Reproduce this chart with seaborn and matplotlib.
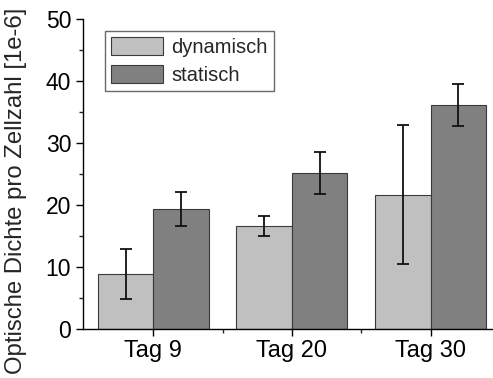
import matplotlib
matplotlib.use("Agg")
import matplotlib.pyplot as plt
from matplotlib.ticker import MultipleLocator, FixedLocator
import numpy as np
import pandas as pd
import seaborn as sns

# Measured optical density per cell count (x 1e-6)
days = ["Tag 9", "Tag 20", "Tag 30"]
groups = ["dynamisch", "statisch"]
dynamisch = [8.85, 16.6, 21.7]
statisch = [19.35, 25.2, 36.1]
dynamisch_err = [4.0, 1.6, 11.2]
statisch_err = [2.7, 3.4, 3.4]
colors = ["#c0c0c0", "#808080"]

df = pd.DataFrame({
    "Tag": days * 2,
    "Gruppe": [groups[0]] * 3 + [groups[1]] * 3,
    "Wert": dynamisch + statisch,
})

sns.set_style("ticks")
plt.rcParams["font.family"] = ["Liberation Sans", "DejaVu Sans"]

fig = plt.figure(figsize=(4.93, 3.78), dpi=100)
ax = fig.add_axes([83 / 493, 1 - 329 / 378, 1 - 83 / 493, (329 - 19.3) / 378])

sns.barplot(data=df, x="Tag", y="Wert", hue="Gruppe", order=days,
            hue_order=groups, palette=colors, saturation=1,
            errorbar=None, edgecolor="#3a3a3a", linewidth=0.8, ax=ax)

# error bars at the centre of each bar
for cont, errs in zip(ax.containers, [dynamisch_err, statisch_err]):
    for bar, e in zip(cont, errs):
        xc = bar.get_x() + bar.get_width() / 2
        ax.errorbar(xc, bar.get_height(), yerr=e, fmt="none", ecolor="#111111",
                    elinewidth=1.3, capsize=4, capthick=1.3, zorder=5)

ax.set_ylim(0, 50)
ax.set_xlim(-0.507, 2.45)
ax.yaxis.set_major_locator(MultipleLocator(10))
ax.yaxis.set_minor_locator(MultipleLocator(5))
ax.xaxis.set_minor_locator(FixedLocator([0.5, 1.5]))

for side in ("top", "right"):
    ax.spines[side].set_visible(False)
for side in ("left", "bottom"):
    ax.spines[side].set_linewidth(1.0)
    ax.spines[side].set_color("black")

ax.tick_params(axis="both", which="major", direction="out", length=5,
               width=1, colors="black")
ax.tick_params(axis="y", which="major", labelsize=16.5, pad=3.5)
ax.tick_params(axis="x", which="major", labelsize=17, pad=3)
ax.tick_params(axis="both", which="minor", direction="out", length=3, width=1)

ax.set_xlabel("")
ax.set_ylabel("Optische Dichte pro Zellzahl [1e-6]", fontsize=17.2)
# axis title sits a little below the axes centre
ax.yaxis.set_label_coords(-0.137, 0.446)

leg = ax.legend(loc="upper left", bbox_to_anchor=(105 / 493, 1 - 31 / 378),
                bbox_transform=fig.transFigure, fontsize=14.5, frameon=True,
                fancybox=False, handlelength=2.6, handleheight=1.0,
                handletextpad=0.4, labelspacing=0.42, borderpad=0.3,
                borderaxespad=0)
leg.get_frame().set_edgecolor("#444444")
leg.get_frame().set_linewidth(1.0)

fig.savefig("out.png", dpi=100)
